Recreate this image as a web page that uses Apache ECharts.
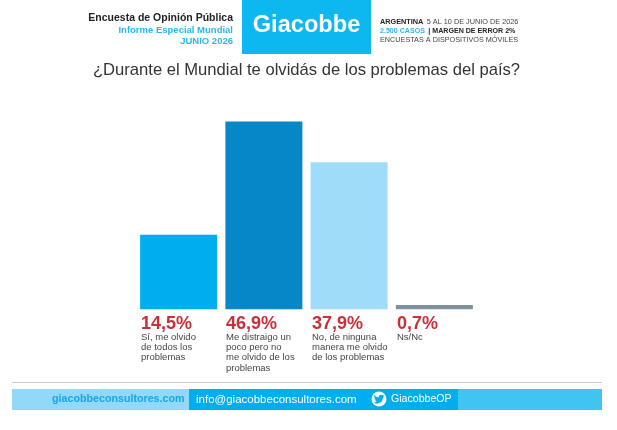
<!DOCTYPE html>
<html><head><meta charset="utf-8">
<style>html,body{margin:0;padding:0;background:#fff}#c{width:617px;height:430px}</style>
<script src="https://cdn.jsdelivr.net/npm/echarts@6/dist/echarts.min.js"></script></head>
<body><div id="c"></div>
<script>
const categories = ["Sí, me olvido\nde todos los\nproblemas","Me distraigo un\npoco pero no\nme olvido de los\nproblemas","No, de ninguna\nmanera me olvido\nde los problemas","Ns/Nc"];
const percentLabels = ["14,5%","46,9%","37,9%","0,7%"];
// Drawn bar heights (the source's bars are not strictly proportional to its labels)
const barHeights = [18.6,46.9,36.7,1.1];
const barColors = ["#00aeef","#0587c8","#9fdcf9","#7f919e"];
const F="'Liberation Sans',Arial,sans-serif";
const labelX=[141,226,312,397];
function t(x,y,text,o){return {type:'text',x,y,style:Object.assign({text,fontFamily:F,fill:'#333',fontSize:9,fontWeight:'normal',textAlign:'left',textBaseline:'top'},o||{})};}
function r(x,y,w,h,fill){return {type:'rect',shape:{x,y,width:w,height:h},style:{fill},z:0};}
const bird=[[10,1.9],[8.8,2.2],[9.7,1.1],[8.4,1.6],[6.9,1],[5.4,1.6],[4.8,3.1],[4.9,3.6],[2.4,2.9],[.6,1.4],[.3,2.5],[1.2,4.3],[.2,4],[1.9,6.1],[.9,6.1],[2.9,7.6],[0,8.6],[3.2,9.6],[7.4,7.9],[9.2,3.6],[9.2,3.3]].map(p=>[373.7+p[0]*1.05,393.6+p[1]*1.05]);
const gfx=[
 r(242,0,129,54,'#0db7f0'),
 t(306.5,13.5,'Giacobbe',{fill:'#fff',fontSize:23.6,fontWeight:'bold',textAlign:'center'}),
 t(233,13,'Encuesta de Opinión Pública',{textAlign:'right',fontWeight:'bold',fontSize:10.5,fill:'#222'}),
 t(233,25,'Informe Especial Mundial',{textAlign:'right',fontWeight:'bold',fontSize:9.5,fill:'#29b6f0'}),
 t(233,36,'JUNIO 2026',{textAlign:'right',fontWeight:'bold',fontSize:9.5,fill:'#29b6f0'}),
 {type:'text',x:380,y:15.5,style:{text:'{a|ARGENTINA} {b|5 AL 10 DE JUNIO DE 2026}',fontFamily:F,rich:{a:{fontSize:7.3,fontWeight:'bold',fill:'#222',fontFamily:F},b:{fontSize:7.3,fill:'#444',fontFamily:F}}}},
 {type:'text',x:380,y:25.5,style:{text:'{a|2.500 CASOS} {c|| MARGEN DE ERROR 2%}',fontFamily:F,rich:{a:{fontSize:7.1,fontWeight:'bold',fill:'#29b6f0',fontFamily:F},c:{fontSize:7.1,fontWeight:'bold',fill:'#222',fontFamily:F}}}},
 t(380,36.5,'ENCUESTAS A DISPOSITIVOS MÓVILES',{fontSize:7.25,fill:'#444'}),
 t(306.5,62,'¿Durante el Mundial te olvidás de los problemas del país?',{textAlign:'center',fontSize:16.6,fill:'#333'}),
 {type:'line',shape:{x1:12,y1:382.5,x2:602,y2:382.5},style:{stroke:'#ccc',lineWidth:1}},
 r(12,389,177,21,'#92d8f8'),
 r(189,389,269,21,'#00aeef'),
 r(458,389,144,21,'#40c4f2'),
 t(184.5,393.5,'giacobbeconsultores.com',{textAlign:'right',fontSize:10.7,fontWeight:'bold',fill:'#16a5e6'}),
 t(196,393.5,'info@giacobbeconsultores.com',{fontSize:11.5,fill:'#fff'}),
 {type:'circle',shape:{cx:379,cy:399,r:7.5},style:{fill:'#fff'}},
 {type:'polygon',shape:{points:bird},style:{fill:'#00aeef'}},
 t(391,394,'GiacobbeOP',{fontSize:10.6,fill:'#fff'})
];
percentLabels.forEach((p,i)=>{
 gfx.push(t(labelX[i],315,p,{fontSize:18,fontWeight:'bold',fill:'#c9303a'}));
 gfx.push(t(labelX[i],332,categories[i],{fontSize:9.5,fill:'#444',lineHeight:10.3}));
});
const chart=echarts.init(document.getElementById('c'),null,{renderer:'canvas'});
chart.setOption({
 animation:false,backgroundColor:'#fff',
 grid:{left:136,width:341,top:121.5,bottom:120.7},
 xAxis:{type:'category',data:categories,axisLine:{show:false},axisTick:{show:false},axisLabel:{show:false}},
 yAxis:{type:'value',min:0,max:46.9,show:false},
 series:[{type:'bar',barWidth:77,data:barHeights.map((v,i)=>({value:v,itemStyle:{color:barColors[i]}}))}],
 graphic:{elements:gfx}
});
</script></body></html>
